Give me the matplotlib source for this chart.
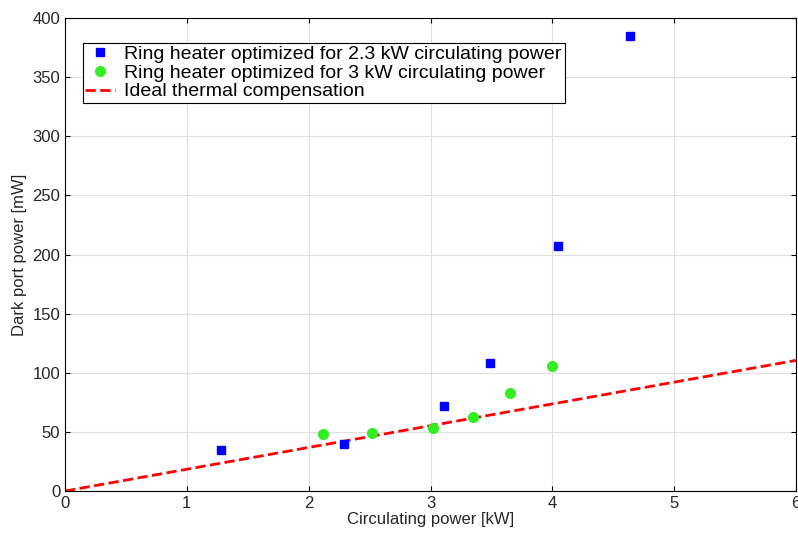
import matplotlib
matplotlib.use("Agg")
import matplotlib.pyplot as plt
import numpy as np

blue_x = [1.28, 2.29, 3.11, 3.49, 4.05, 4.64]
blue_y = [35, 40, 72, 108, 207, 385]
green_x = [2.12, 2.52, 3.02, 3.35, 3.65, 4.00]
green_y = [48, 49, 53, 63, 83, 106]
line_x = [0, 6]
line_y = [0, 110.5]

plt.rcParams['font.family'] = ['Liberation Sans', 'DejaVu Sans']
fig = plt.figure(figsize=(7.98, 5.34), dpi=100)
ax = fig.add_axes([0.0815, 0.0805, 0.916, 0.8855])
ax.plot(blue_x, blue_y, 's', color='#0000ff', markersize=6, label='Ring heater optimized for 2.3 kW circulating power', zorder=3)
ax.plot(green_x, green_y, 'o', color='#33ee22', markersize=7, label='Ring heater optimized for 3 kW circulating power', zorder=3)
ax.plot(line_x, line_y, '--', color='#ff0000', linewidth=2, label='Ideal thermal compensation')
ax.set_xlim(0, 6)
ax.set_ylim(0, 400)
ax.set_xticks(range(7))
ax.set_yticks(range(0, 401, 50))
ax.grid(True, color='#e0e0e0', linewidth=0.8)
ax.set_axisbelow(True)
ax.tick_params(direction='in', labelsize=12, top=True, right=True, labelcolor='#262626')
ax.set_xlabel('Circulating power [kW]', fontsize=12, labelpad=1, color='#262626')
ax.set_ylabel('Dark port power [mW]', fontsize=12, color='#262626')
leg = ax.legend(loc='upper left', bbox_to_anchor=(0.024, 0.948), fontsize=14, fancybox=False,
                edgecolor='black', framealpha=1, handlelength=1.5, handletextpad=0.5,
                borderpad=0.15, labelspacing=0.05, borderaxespad=0)
leg.get_frame().set_linewidth(0.8)
fig.savefig('out.png', dpi=100)
